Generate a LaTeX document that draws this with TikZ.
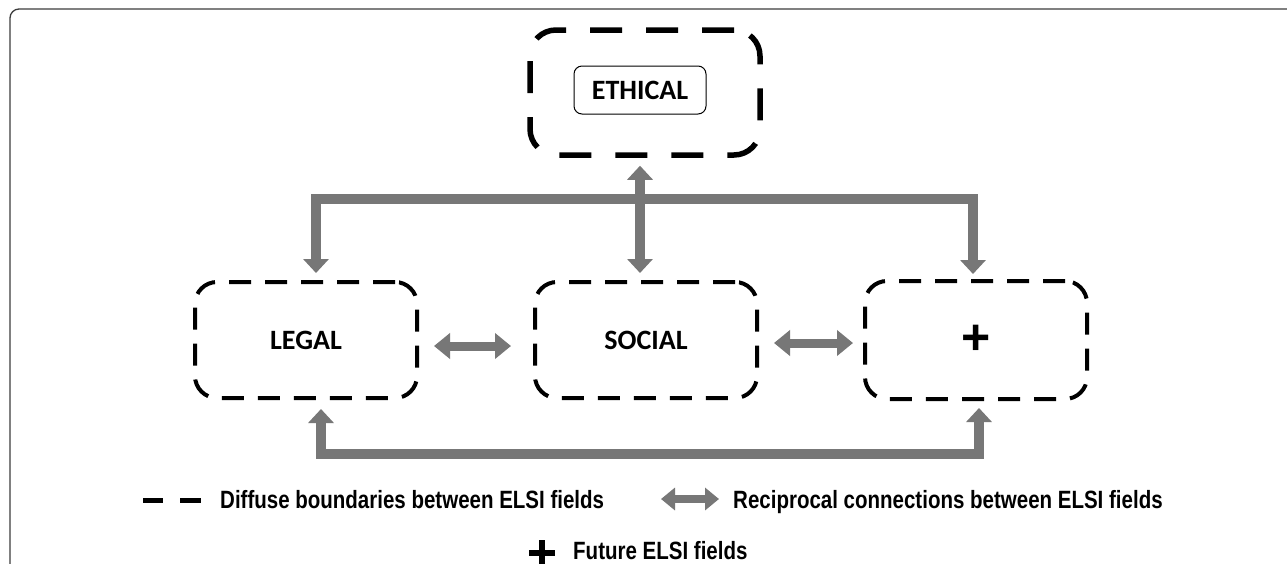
\documentclass[tikz,border=0pt]{standalone}
\usepackage{fontspec}
\setmainfont{Carlito}
\newfontfamily\legendfont[FakeStretch=0.82]{Liberation Sans}
\newfontfamily\plusfont{Liberation Sans}
\usetikzlibrary{arrows.meta,calc}
\definecolor{arrowgray}{RGB}{119,119,119}
\definecolor{framegray}{RGB}{60,60,60}
\tikzset{
  fieldbox/.style={draw=black, line width=4pt, dash pattern=on 22pt off 14pt, rounded corners=22pt,
    minimum width=222pt, minimum height=116pt, font=\fontsize{28}{30}\selectfont\bfseries, inner sep=0pt},
  ethicbox/.style={draw=black, line width=5.5pt, dash pattern=on 32pt off 24pt, rounded corners=26pt,
    minimum width=230pt, minimum height=125pt, inner sep=0pt},
  innerbox/.style={draw=black, line width=1pt, rounded corners=8pt, minimum width=132pt, minimum height=48pt,
    font=\fontsize{28}{30}\selectfont\bfseries, inner sep=0pt},
  conn/.style={draw=arrowgray, line width=10pt, line join=miter,
    {Triangle[width=25pt,length=14pt]}-{Triangle[width=25pt,length=14pt]}},
  connh/.style={draw=arrowgray, line width=9pt,
    {Triangle[width=25pt,length=16pt]}-{Triangle[width=25pt,length=16pt]}},
  legtext/.style={anchor=base west, inner sep=0pt, font=\fontsize{25}{28}\selectfont\legendfont\bfseries},
}
\begin{document}
\begin{tikzpicture}[x=1pt,y=-1pt]
\useasboundingbox (0,0) rectangle (1287,563);
\clip (0,0) rectangle (1287,563);
\fill[white] (0,0) rectangle (1287,563);
\draw[framegray, line width=1.3pt, rounded corners=9pt] (10,9) rectangle (1320,600);

% boxes
\node[ethicbox] (ethicalouter) at (645,92.5) {};
\node[innerbox] (ethical) at (640,90) {ETHICAL};
\node[fieldbox] (legal) at (306,340) {LEGAL};
\node[fieldbox] (social) at (646,340) {SOCIAL};
\node[fieldbox, minimum height=118pt, font=\fontsize{50}{50}\selectfont\plusfont\bfseries] (plus) at (976,340) {+};

% top bus
\draw[conn] ($(legal.north)+(10,-7)$) -- ++(0,-74) -| ($(plus.north)+(-3,-5)$);
\draw[conn] ($(ethicalouter.south)+(-5,8)$) -- ($(social.north)+(-6,-7)$);
% bottom bus
\draw[conn] ($(legal.south)+(15,9)$) -- ++(0,45) -| ($(plus.south)+(3,7)$);
% horizontal arrows
\draw[connh] ($(legal.east)+(15,6)$) -- ($(social.west)+(-22,6)$);
\draw[connh] ($(social.east)+(15,3)$) -- ($(plus.west)+(-10,3)$);

% legend
\coordinate (d1a) at (143,500); \coordinate (d1b) at (163,500);
\coordinate (d2a) at (180,500); \coordinate (d2b) at (201,500);
\draw[black, line width=5pt] (d1a) -- (d1b);
\draw[black, line width=5pt] (d2a) -- (d2b);
\node[legtext] (ldiff) at (220,508) {Diffuse boundaries between ELSI fields};
\coordinate (la) at (661,499); \coordinate (lb) at (719,499);
\draw[draw=arrowgray, line width=8pt, {Triangle[width=22pt,length=14pt]}-{Triangle[width=22pt,length=14pt]}] (la) -- (lb);
\node[legtext] (lrec) at (733,508) {Reciprocal connections between ELSI fields};
\coordinate (pc) at (542,553);
\draw[black, line width=6pt] ($(pc)+(-13,0)$) -- ($(pc)+(13,0)$);
\draw[black, line width=6pt] ($(pc)+(0,-13)$) -- ($(pc)+(0,13)$);
\node[legtext] (lfut) at (573,559) {Future ELSI fields};
\end{tikzpicture}
\end{document}
